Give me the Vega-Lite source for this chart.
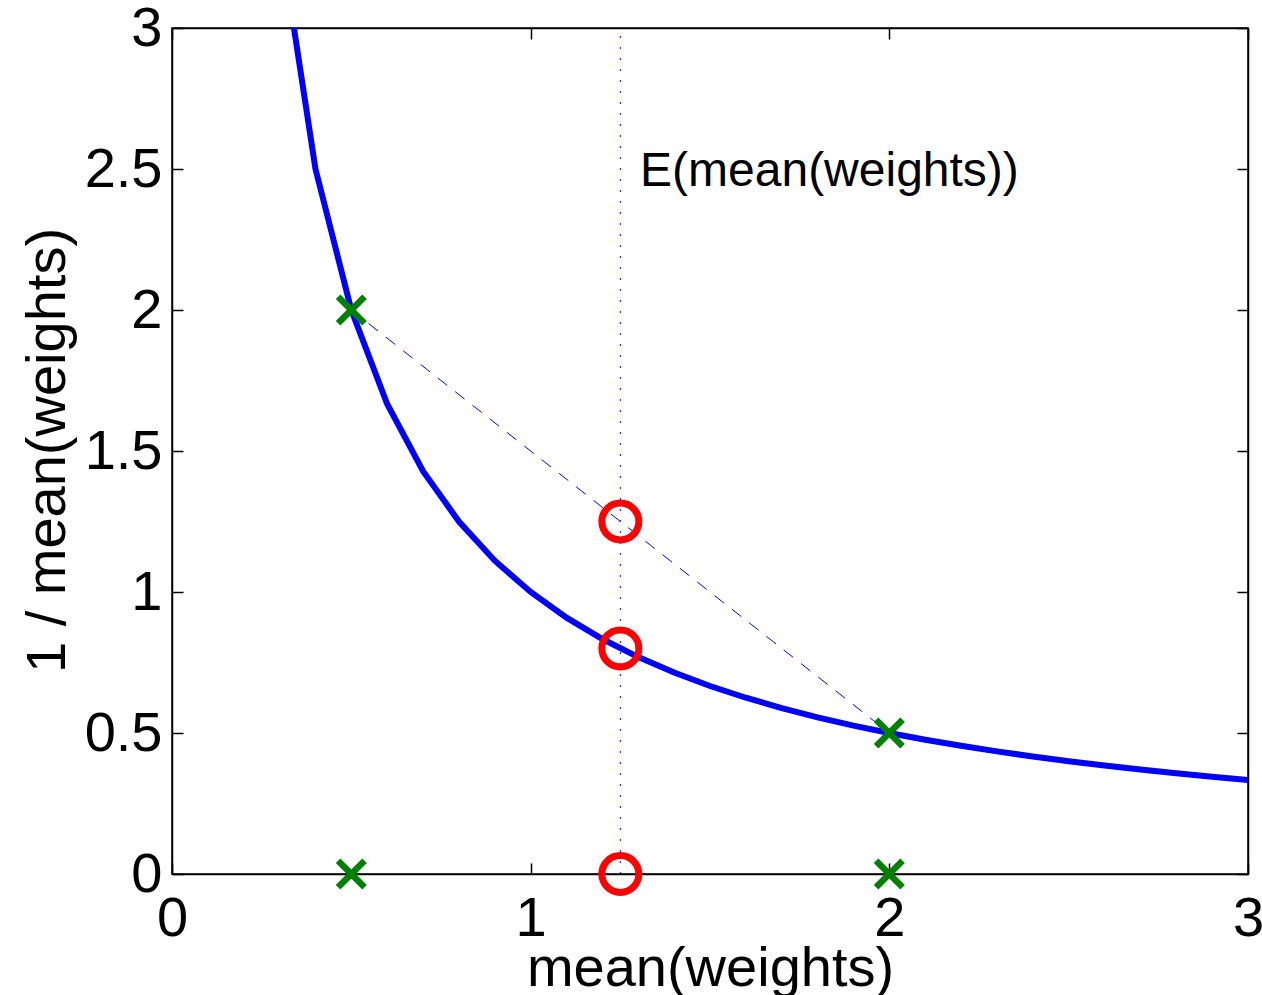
{
  "$schema": "https://vega.github.io/schema/vega-lite/v6.json",
  "width": 1076,
  "height": 846,
  "autosize": {"type": "none"},
  "padding": {"left": 172, "top": 28, "right": 14, "bottom": 121},
  "background": "white",
  "config": {
    "view": {"stroke": "black", "strokeWidth": 1.5},
    "font": "Liberation Sans",
    "axis": {
      "grid": false,
      "domainColor": "black",
      "domainWidth": 1.5,
      "tickColor": "black",
      "tickWidth": 1.5,
      "tickSize": -11,
      "labelFont": "Liberation Sans",
      "labelFontSize": 56,
      "labelColor": "black",
      "labelFlush": false,
      "labelOverlap": false,
      "titleFont": "Liberation Sans",
      "titleFontSize": 56,
      "titleFontWeight": "normal",
      "titleColor": "black"
    }
  },
  "datasets": {
    "curve": [
      {"x": 0.3, "y": 3.3333},
      {"x": 0.4, "y": 2.5},
      {"x": 0.5, "y": 2.0},
      {"x": 0.6, "y": 1.6667},
      {"x": 0.7, "y": 1.4286},
      {"x": 0.8, "y": 1.25},
      {"x": 0.9, "y": 1.1111},
      {"x": 1.0, "y": 1.0},
      {"x": 1.1, "y": 0.9091},
      {"x": 1.2, "y": 0.8333},
      {"x": 1.3, "y": 0.7692},
      {"x": 1.4, "y": 0.7143},
      {"x": 1.5, "y": 0.6667},
      {"x": 1.6, "y": 0.625},
      {"x": 1.7, "y": 0.5882},
      {"x": 1.8, "y": 0.5556},
      {"x": 1.9, "y": 0.5263},
      {"x": 2.0, "y": 0.5},
      {"x": 2.1, "y": 0.4762},
      {"x": 2.2, "y": 0.4545},
      {"x": 2.3, "y": 0.4348},
      {"x": 2.4, "y": 0.4167},
      {"x": 2.5, "y": 0.4},
      {"x": 2.6, "y": 0.3846},
      {"x": 2.7, "y": 0.3704},
      {"x": 2.8, "y": 0.3571},
      {"x": 2.9, "y": 0.3448},
      {"x": 3.0, "y": 0.3333}
    ],
    "chord": [{"x": 0.5, "y": 2.0}, {"x": 2.0, "y": 0.5}],
    "vline": [{"x": 1.25, "y": 0}, {"x": 1.25, "y": 3}],
    "crosses": [
      {"x": 0.5, "y": 2.0},
      {"x": 2.0, "y": 0.5},
      {"x": 0.5, "y": 0},
      {"x": 2.0, "y": 0}
    ],
    "circles": [
      {"x": 1.25, "y": 1.25},
      {"x": 1.25, "y": 0.8},
      {"x": 1.25, "y": 0}
    ],
    "label": [{"x": 1.305, "y": 2.49, "text": "E(mean(weights))"}]
  },
  "resolve": {"axis": {"x": "independent", "y": "independent"}},
  "layer": [
    {
      "data": {"name": "vline"},
      "mark": {"type": "line", "color": "#0000ff", "strokeWidth": 1, "strokeDash": [2, 9]},
      "encoding": {
        "x": {"field": "x", "type": "quantitative", "scale": {"domain": [0, 3], "nice": false, "zero": false},
          "axis": {"orient": "top", "values": [0, 1, 2, 3], "labels": false, "title": null}},
        "y": {"field": "y", "type": "quantitative", "scale": {"domain": [0, 3], "nice": false, "zero": false},
          "axis": {"orient": "right", "values": [0, 0.5, 1, 1.5, 2, 2.5, 3], "labels": false, "title": null}}
      }
    },
    {
      "data": {"name": "chord"},
      "mark": {"type": "line", "color": "#0000ff", "strokeWidth": 1, "strokeDash": [12, 10]},
      "encoding": {
        "x": {"field": "x", "type": "quantitative", "axis": null},
        "y": {"field": "y", "type": "quantitative", "axis": null}
      }
    },
    {
      "data": {"name": "curve"},
      "mark": {"type": "line", "color": "#0000ff", "strokeWidth": 6, "clip": true},
      "encoding": {
        "x": {"field": "x", "type": "quantitative",
          "axis": {"orient": "bottom", "values": [0, 1, 2, 3], "format": "~g", "labelPadding": 28,
            "title": "mean(weights)", "titleX": 538, "titleY": 111, "titleAlign": "center", "titleBaseline": "alphabetic"}},
        "y": {"field": "y", "type": "quantitative",
          "axis": {"orient": "left", "values": [0, 0.5, 1, 1.5, 2, 2.5, 3], "format": "~g", "labelPadding": 21,
            "title": "1 / mean(weights)", "titleX": -108, "titleY": 422, "titleAngle": -90, "titleAlign": "center", "titleBaseline": "alphabetic"}}
      }
    },
    {
      "data": {"name": "circles"},
      "mark": {"type": "point", "shape": "circle", "filled": false, "color": "#ff0000", "strokeWidth": 7, "size": 1369, "opacity": 1},
      "encoding": {
        "x": {"field": "x", "type": "quantitative", "axis": null},
        "y": {"field": "y", "type": "quantitative", "axis": null}
      }
    },
    {
      "data": {"name": "crosses"},
      "mark": {"type": "point", "shape": "M-1,-1L1,1M-1,1L1,-1", "filled": false, "color": "#008000", "strokeWidth": 6.5, "size": 700, "opacity": 1},
      "encoding": {
        "x": {"field": "x", "type": "quantitative", "axis": null},
        "y": {"field": "y", "type": "quantitative", "axis": null}
      }
    },
    {
      "data": {"name": "label"},
      "mark": {"type": "text", "align": "left", "baseline": "middle", "fontSize": 48, "font": "Liberation Sans", "color": "black"},
      "encoding": {
        "x": {"field": "x", "type": "quantitative", "axis": null},
        "y": {"field": "y", "type": "quantitative", "axis": null},
        "text": {"field": "text"}
      }
    }
  ]
}
